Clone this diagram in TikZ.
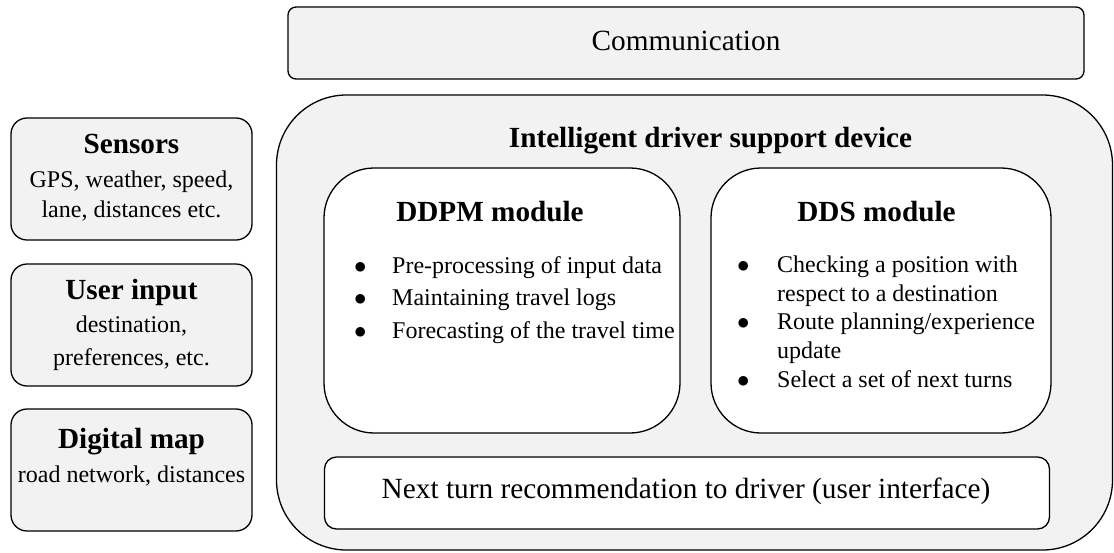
\documentclass[tikz,border=0pt]{standalone}
\usepackage{fontspec}
\setmainfont{Liberation Serif}
\definecolor{boxgrey}{HTML}{F2F2F2}
\newcommand{\fsz}[1]{\fontsize{#1}{1.2\dimexpr #1pt\relax}\selectfont}
\newcommand{\bul}{$\bullet$}
\begin{document}
\begin{tikzpicture}[x=1pt,y=-1pt,
  panel/.style={draw, line width=1.3pt, fill=boxgrey, inner sep=0pt, outer sep=0pt},
  inner/.style={draw, line width=1.3pt, fill=white, inner sep=0pt, outer sep=0pt},
  title/.style={font=\fsz{29.2}\bfseries, anchor=base, inner sep=0pt},
  body/.style={font=\fsz{24}, anchor=base, inner sep=0pt},
  big/.style={font=\fsz{29.3}, anchor=base, inner sep=0pt},
  list/.style={font=\fsz{24}, anchor=north west, inner sep=0pt, align=left}
]
\useasboundingbox (0,0) rectangle (1114,552);

% Communication
\node[panel, rounded corners=8pt, minimum width=796pt, minimum height=72pt] (comm) at (686,43) {};
\node[big] (commtxt) at (686,50) {Communication};

% Big device box
\node[panel, rounded corners=70pt, minimum width=836pt, minimum height=455pt] (device) at (694.5,322.5) {};
\node[title] (devtitle) at (710.5,147) {Intelligent driver support device};

% DDPM module
\node[inner, rounded corners=50pt, minimum width=356pt, minimum height=265pt] (ddpm) at (502,300.5) {};
\node[title] (ddpmtitle) at (490,221) {DDPM module};
\node[list] (ddpmlist) at (354,253) {%
  \begin{tabular}{@{}p{38pt}@{}l@{}}
  \bul & Pre-processing of input data\\[3.7pt]
  \bul & Maintaining travel logs\\[3.7pt]
  \bul & Forecasting of the travel time
  \end{tabular}};

% DDS module
\node[inner, rounded corners=50pt, minimum width=340pt, minimum height=265pt] (dds) at (881,300.5) {};
\node[title] (ddstitle) at (876.5,221) {DDS module};
\node[list] (ddslist) at (737,252) {%
  \begin{tabular}{@{}p{40pt}@{}l@{}}
  \bul & Checking a position with\\
   & respect to a destination\\
  \bul & Route planning/experience\\
   & update\\
  \bul & Select a set of next turns
  \end{tabular}};

% Next turn
\node[inner, rounded corners=12pt, minimum width=725pt, minimum height=72pt] (next) at (687,493) {};
\node[big] (nexttxt) at (686,498) {Next turn recommendation to driver (user interface)};

% Left boxes
\node[panel, rounded corners=16pt, minimum width=241pt, minimum height=122pt] (sensors) at (131.5,179) {};
\node[title] (senst) at (131.5,153) {Sensors};
\node[body] (sens1) at (131.5,187) {GPS, weather, speed,};
\node[body] (sens2) at (131.5,217) {lane, distances etc.};

\node[panel, rounded corners=16pt, minimum width=241pt, minimum height=122pt] (user) at (131.5,325) {};
\node[title] (usert) at (131.5,299) {User input};
\node[body] (user1) at (131.5,332) {destination,};
\node[body] (user2) at (131.5,365) {preferences, etc.};

\node[panel, rounded corners=16pt, minimum width=241pt, minimum height=122pt] (map) at (131.5,470) {};
\node[title] (mapt) at (131.5,448) {Digital map};
\node[body] (map1) at (131.5,482) {road network, distances};
\end{tikzpicture}
\end{document}
